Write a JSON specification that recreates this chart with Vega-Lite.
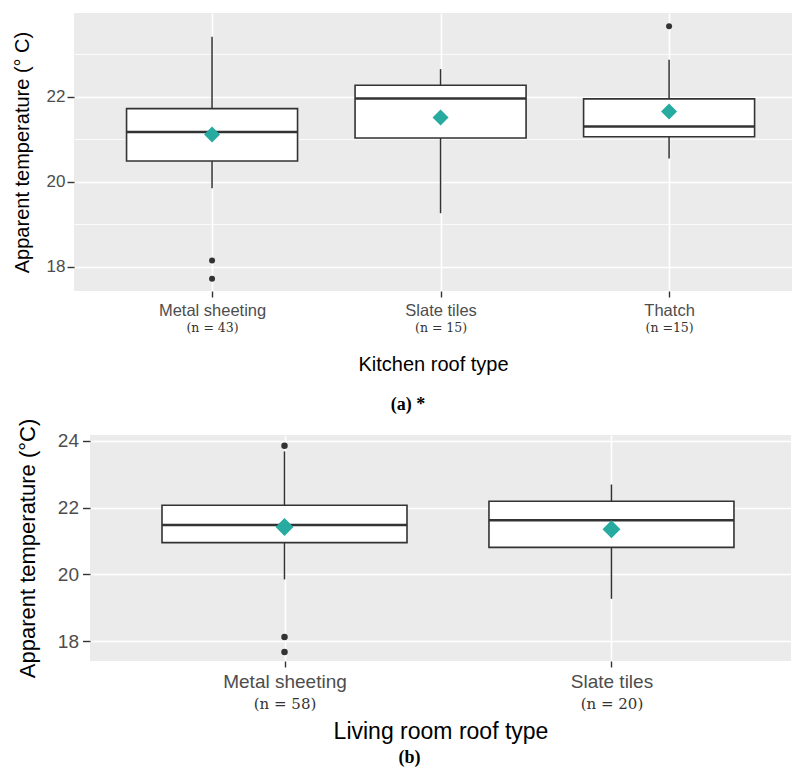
{
  "$schema": "https://vega.github.io/schema/vega-lite/v6.json",
  "padding": {"left": 11, "top": 13, "right": 2, "bottom": 0},
  "datasets": {
    "k": [
      {"roof": "Metal sheeting", "lower": 19.85, "q1": 20.49, "median": 21.17, "q3": 21.72, "upper": 23.41, "mean": 21.11},
      {"roof": "Slate tiles", "lower": 19.26, "q1": 21.03, "median": 21.96, "q3": 22.27, "upper": 22.65, "mean": 21.51},
      {"roof": "Thatch", "lower": 20.55, "q1": 21.06, "median": 21.30, "q3": 21.95, "upper": 22.87, "mean": 21.65}
    ],
    "k_out": [
      {"roof": "Metal sheeting", "temp": 18.15},
      {"roof": "Metal sheeting", "temp": 17.72},
      {"roof": "Thatch", "temp": 23.66}
    ],
    "l": [
      {"roof": "Metal sheeting", "lower": 19.85, "q1": 20.95, "median": 21.48, "q3": 22.07, "upper": 23.68, "mean": 21.42},
      {"roof": "Slate tiles", "lower": 19.27, "q1": 20.81, "median": 21.62, "q3": 22.19, "upper": 22.69, "mean": 21.35}
    ],
    "l_out": [
      {"roof": "Metal sheeting", "temp": 23.85},
      {"roof": "Metal sheeting", "temp": 18.13},
      {"roof": "Metal sheeting", "temp": 17.68}
    ],
    "none": []
  },
  "spacing": 4,
  "vconcat": [
    {
      "spacing": 0,
      "hconcat": [
        {
          "width": 1, "height": 1,
          "view": {"fill": null, "stroke": null},
          "data": {"name": "none"},
          "mark": {"type": "point", "opacity": 0},
          "encoding": {}
        },
        {
          "width": 718,
          "height": 278,
          "title": {"text": "(a) *", "orient": "bottom", "fontSize": 18, "fontWeight": "bold", "offset": 21, "dx": -25},
          "resolve": {"axis": {"x": "independent"}},
          "layer": [
            {
              "data": {"name": "k"},
              "mark": {"type": "rule", "color": "#333333", "strokeWidth": 1.5},
              "encoding": {
                "x": {"field": "roof", "type": "nominal",
                  "scale": {"type": "point", "padding": 0.571, "align": 0.529, "domain": ["Metal sheeting", "Slate tiles", "Thatch"]},
                  "axis": {"orient": "bottom", "title": "Kitchen roof type", "labelAngle": 0, "labelFontSize": 16.5, "tickSize": 6, "tickWidth": 1.4, "labelPadding": 5, "grid": true, "gridWidth": 1.6, "titleFontSize": 20, "titlePadding": 36}},
                "y": {"field": "lower", "type": "quantitative",
                  "scale": {"domain": [17.43, 23.97], "nice": false, "zero": false},
                  "axis": {"title": "Apparent temperature (° C)", "values": [18, 19, 20, 21, 22, 23],
                    "labelExpr": "datum.value % 2 === 0 ? datum.label : ''",
                    "tickOpacity": {"condition": {"test": "datum.value % 2 === 1", "value": 0}, "value": 1},
                    "gridWidth": {"condition": {"test": "datum.value % 2 === 1", "value": 0.8}, "value": 1.6},
                    "tickSize": 7, "tickWidth": 1.4, "labelPadding": 2, "labelFontSize": 17, "titleFontSize": 20, "titlePadding": 11.5, "minExtent": 30}},
                "y2": {"field": "q1"}
              }
            },
            {
              "data": {"name": "k"},
              "mark": {"type": "rule", "color": "#333333", "strokeWidth": 1.5},
              "encoding": {
                "x": {"field": "roof", "type": "nominal", "axis": null},
                "y": {"field": "q3", "type": "quantitative"},
                "y2": {"field": "upper"}
              }
            },
            {
              "data": {"name": "k"},
              "mark": {"type": "bar", "width": 171, "fill": "white", "stroke": "#333333", "strokeWidth": 1.6},
              "encoding": {
                "x": {"field": "roof", "type": "nominal", "axis": null},
                "y": {"field": "q1", "type": "quantitative"},
                "y2": {"field": "q3"}
              }
            },
            {
              "data": {"name": "k"},
              "mark": {"type": "tick", "size": 171, "thickness": 2.6, "color": "#333333", "opacity": 1},
              "encoding": {
                "x": {"field": "roof", "type": "nominal", "axis": null},
                "y": {"field": "median", "type": "quantitative"}
              }
            },
            {
              "data": {"name": "k_out"},
              "mark": {"type": "circle", "size": 36, "color": "#333333", "opacity": 1},
              "encoding": {
                "x": {"field": "roof", "type": "nominal", "axis": null},
                "y": {"field": "temp", "type": "quantitative"}
              }
            },
            {
              "data": {"name": "k"},
              "mark": {"type": "point", "shape": "diamond", "size": 256, "filled": true, "color": "#27AA9F", "opacity": 1},
              "encoding": {
                "x": {"field": "roof", "type": "nominal",
                  "axis": {"orient": "bottom", "title": null, "ticks": false, "tickSize": 0, "domain": false, "grid": false, "labelAngle": 0,
                    "labelPadding": 30.5, "labelFont": "DejaVu Serif", "labelFontSize": 12.5, "labelColor": "#333333",
                    "labelExpr": "datum.value === 'Metal sheeting' ? '(n = 43)' : datum.value === 'Slate tiles' ? '(n = 15)' : '(n =15)'"}},
                "y": {"field": "mean", "type": "quantitative"}
              }
            }
          ]
        }
      ]
    },
    {
      "spacing": 0,
      "hconcat": [
        {
          "width": 5, "height": 1,
          "view": {"fill": null, "stroke": null},
          "data": {"name": "none"},
          "mark": {"type": "point", "opacity": 0},
          "encoding": {}
        },
        {
          "width": 701,
          "height": 226,
          "title": {"text": "(b)", "orient": "bottom", "fontSize": 18, "fontWeight": "bold", "offset": 6, "dx": -31},
          "resolve": {"axis": {"x": "independent"}},
          "layer": [
            {
              "data": {"name": "l"},
              "mark": {"type": "rule", "color": "#333333", "strokeWidth": 1.5},
              "encoding": {
                "x": {"field": "roof", "type": "nominal",
                  "scale": {"type": "point", "padding": 0.572, "align": 0.52, "domain": ["Metal sheeting", "Slate tiles"]},
                  "axis": {"orient": "bottom", "title": "Living room roof type", "labelAngle": 0, "labelFontSize": 19, "tickSize": 6, "tickWidth": 1.4, "labelPadding": 5, "grid": true, "gridWidth": 1.6, "titleFontSize": 23, "titlePadding": 29}},
                "y": {"field": "lower", "type": "quantitative",
                  "scale": {"domain": [17.41, 24.17], "nice": false, "zero": false},
                  "axis": {"title": "Apparent temperature (°C)", "values": [18, 19, 20, 21, 22, 23, 24],
                    "labelExpr": "datum.value % 2 === 0 ? datum.label : ''",
                    "tickOpacity": {"condition": {"test": "datum.value % 2 === 1", "value": 0}, "value": 1},
                    "gridWidth": {"condition": {"test": "datum.value % 2 === 1", "value": 0.8}, "value": 1.6},
                    "tickSize": 7.5, "tickWidth": 1.4, "labelPadding": 4, "labelFontSize": 19, "titleFontSize": 22, "titlePadding": 18, "minExtent": 30}},
                "y2": {"field": "q1"}
              }
            },
            {
              "data": {"name": "l"},
              "mark": {"type": "rule", "color": "#333333", "strokeWidth": 1.5},
              "encoding": {
                "x": {"field": "roof", "type": "nominal", "axis": null},
                "y": {"field": "q3", "type": "quantitative"},
                "y2": {"field": "upper"}
              }
            },
            {
              "data": {"name": "l"},
              "mark": {"type": "bar", "width": 245, "fill": "white", "stroke": "#333333", "strokeWidth": 1.6},
              "encoding": {
                "x": {"field": "roof", "type": "nominal", "axis": null},
                "y": {"field": "q1", "type": "quantitative"},
                "y2": {"field": "q3"}
              }
            },
            {
              "data": {"name": "l"},
              "mark": {"type": "tick", "size": 245, "thickness": 2.6, "color": "#333333", "opacity": 1},
              "encoding": {
                "x": {"field": "roof", "type": "nominal", "axis": null},
                "y": {"field": "median", "type": "quantitative"}
              }
            },
            {
              "data": {"name": "l_out"},
              "mark": {"type": "circle", "size": 42, "color": "#333333", "opacity": 1},
              "encoding": {
                "x": {"field": "roof", "type": "nominal", "axis": null},
                "y": {"field": "temp", "type": "quantitative"}
              }
            },
            {
              "data": {"name": "l"},
              "mark": {"type": "point", "shape": "diamond", "size": 320, "filled": true, "color": "#27AA9F", "opacity": 1},
              "encoding": {
                "x": {"field": "roof", "type": "nominal",
                  "axis": {"orient": "bottom", "title": null, "ticks": false, "tickSize": 0, "domain": false, "grid": false, "labelAngle": 0,
                    "labelPadding": 35.5, "labelFont": "DejaVu Serif", "labelFontSize": 15, "labelColor": "#333333",
                    "labelExpr": "datum.value === 'Metal sheeting' ? '(n = 58)' : '(n = 20)'"}},
                "y": {"field": "mean", "type": "quantitative"}
              }
            }
          ]
        }
      ]
    }
  ],
  "config": {
    "view": {"fill": "#EBEBEB", "stroke": null},
    "axis": {"domain": false, "gridColor": "white", "gridOpacity": 1, "tickColor": "#333333", "labelColor": "#4D4D4D", "titleColor": "black", "labelFont": "Liberation Sans", "titleFont": "Liberation Sans", "titleFontWeight": "normal"},
    "title": {"font": "Liberation Serif", "color": "black", "anchor": "middle"}
  }
}
